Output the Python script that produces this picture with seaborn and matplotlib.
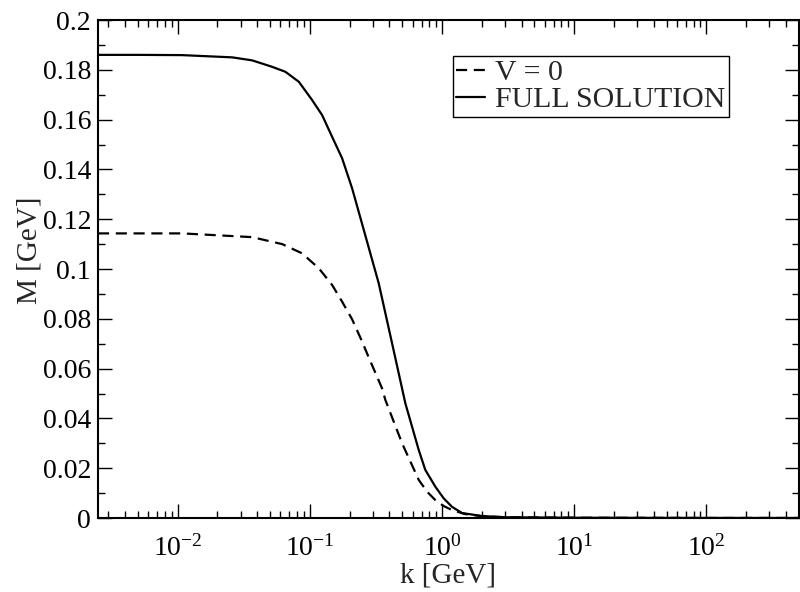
import matplotlib
matplotlib.use("Agg")
import matplotlib.pyplot as plt
import matplotlib.ticker as mticker
import numpy as np
import pandas as pd
import seaborn as sns

# Dynamical mass M(k) versus momentum k
k_full = [0.0025, 0.005, 0.0108, 0.0259, 0.0366, 0.0519, 0.0654, 0.0826, 0.104,
          0.124, 0.1475, 0.1755, 0.209, 0.263, 0.332, 0.419, 0.499, 0.528, 0.667,
          0.748, 0.89, 1.03, 1.19, 1.416, 2.0, 3.0, 10.0, 100.0, 500.0]
m_full = [0.1860, 0.1860, 0.1859, 0.1850, 0.1838, 0.1812, 0.1792, 0.1752, 0.1679,
          0.1618, 0.1531, 0.1445, 0.1324, 0.1135, 0.0943, 0.0702, 0.0520, 0.0461, 0.0273,
          0.0193, 0.0126, 0.0079, 0.0045, 0.0020, 0.0008, 0.0003, 0.0001, 0.00002, 0.00001]

k_v0 = [0.0025, 0.0108, 0.0366, 0.0618, 0.0874, 0.117, 0.1475, 0.1755, 0.209,
        0.249, 0.279, 0.352, 0.373, 0.499, 0.667, 0.77, 0.89, 1.03, 1.19, 1.49,
        2.0, 3.0, 10.0, 100.0, 500.0]
m_v0 = [0.1143, 0.1143, 0.1128, 0.1100, 0.1063, 0.1003, 0.0936, 0.0869, 0.0798,
        0.0708, 0.0645, 0.0521, 0.0474, 0.0300, 0.0153, 0.0106, 0.0072, 0.0048, 0.0032,
        0.0016, 0.0007, 0.0003, 0.0001, 0.00002, 0.00001]

labels = ["V = 0", "FULL SOLUTION"]

sns.set_style("ticks")
plt.rcParams["font.family"] = ["Liberation Serif", "DejaVu Serif"]
plt.rcParams["mathtext.fontset"] = "custom"
plt.rcParams["mathtext.rm"] = "Liberation Serif"
plt.rcParams["mathtext.it"] = "Liberation Serif:italic"
plt.rcParams["axes.unicode_minus"] = False

fig = plt.figure(figsize=(8, 5.92), dpi=100)
ax = fig.add_axes([0.1225, 0.125, 0.876, 0.8412])

df_v0 = pd.DataFrame({"k": k_v0, "M": m_v0})
df_full = pd.DataFrame({"k": k_full, "M": m_full})

sns.lineplot(data=df_v0, x="k", y="M", ax=ax, color="black", lw=1.6,
             linestyle=(0, (5, 3)), label=labels[0], estimator=None)
sns.lineplot(data=df_full, x="k", y="M", ax=ax, color="black", lw=1.6,
             linestyle="-", label=labels[1], estimator=None)

ax.set_xscale("log")
ax.set_xlim(0.0025, 500)
ax.set_ylim(0, 0.2)

ax.yaxis.set_major_locator(mticker.MultipleLocator(0.02))
ax.yaxis.set_minor_locator(mticker.MultipleLocator(0.01))
ax.yaxis.set_major_formatter(mticker.FuncFormatter(lambda v, p: f"{v:g}"))
ax.xaxis.set_major_locator(mticker.LogLocator(base=10, numticks=20))
ax.xaxis.set_minor_locator(mticker.LogLocator(base=10, subs=np.arange(2, 10), numticks=20))
ax.xaxis.set_minor_formatter(mticker.NullFormatter())

ax.tick_params(which="both", direction="in", top=True, right=True,
               colors="black", width=1.0)
ax.tick_params(which="major", length=10, labelsize=20)
ax.tick_params(axis="y", which="major", pad=5)
ax.tick_params(axis="x", which="major", pad=12)
ax.tick_params(which="minor", length=5)
for s in ax.spines.values():
    s.set_linewidth(1.5)
    s.set_color("black")

ax.set_xlabel("k [GeV]", fontsize=21, labelpad=1)
ax.set_ylabel("M [GeV]", fontsize=21)
ax.yaxis.set_label_coords(-0.0785, 0.538)

leg = ax.legend(loc="upper left", bbox_to_anchor=(0.506, 0.928), fontsize=21.5,
                frameon=True, fancybox=False, edgecolor="black", framealpha=1,
                handlelength=0.95, handletextpad=0.35, borderpad=0.12,
                labelspacing=0.0, borderaxespad=0)
leg.get_frame().set_linewidth(1.0)

fig.savefig("out.png", dpi=100)
